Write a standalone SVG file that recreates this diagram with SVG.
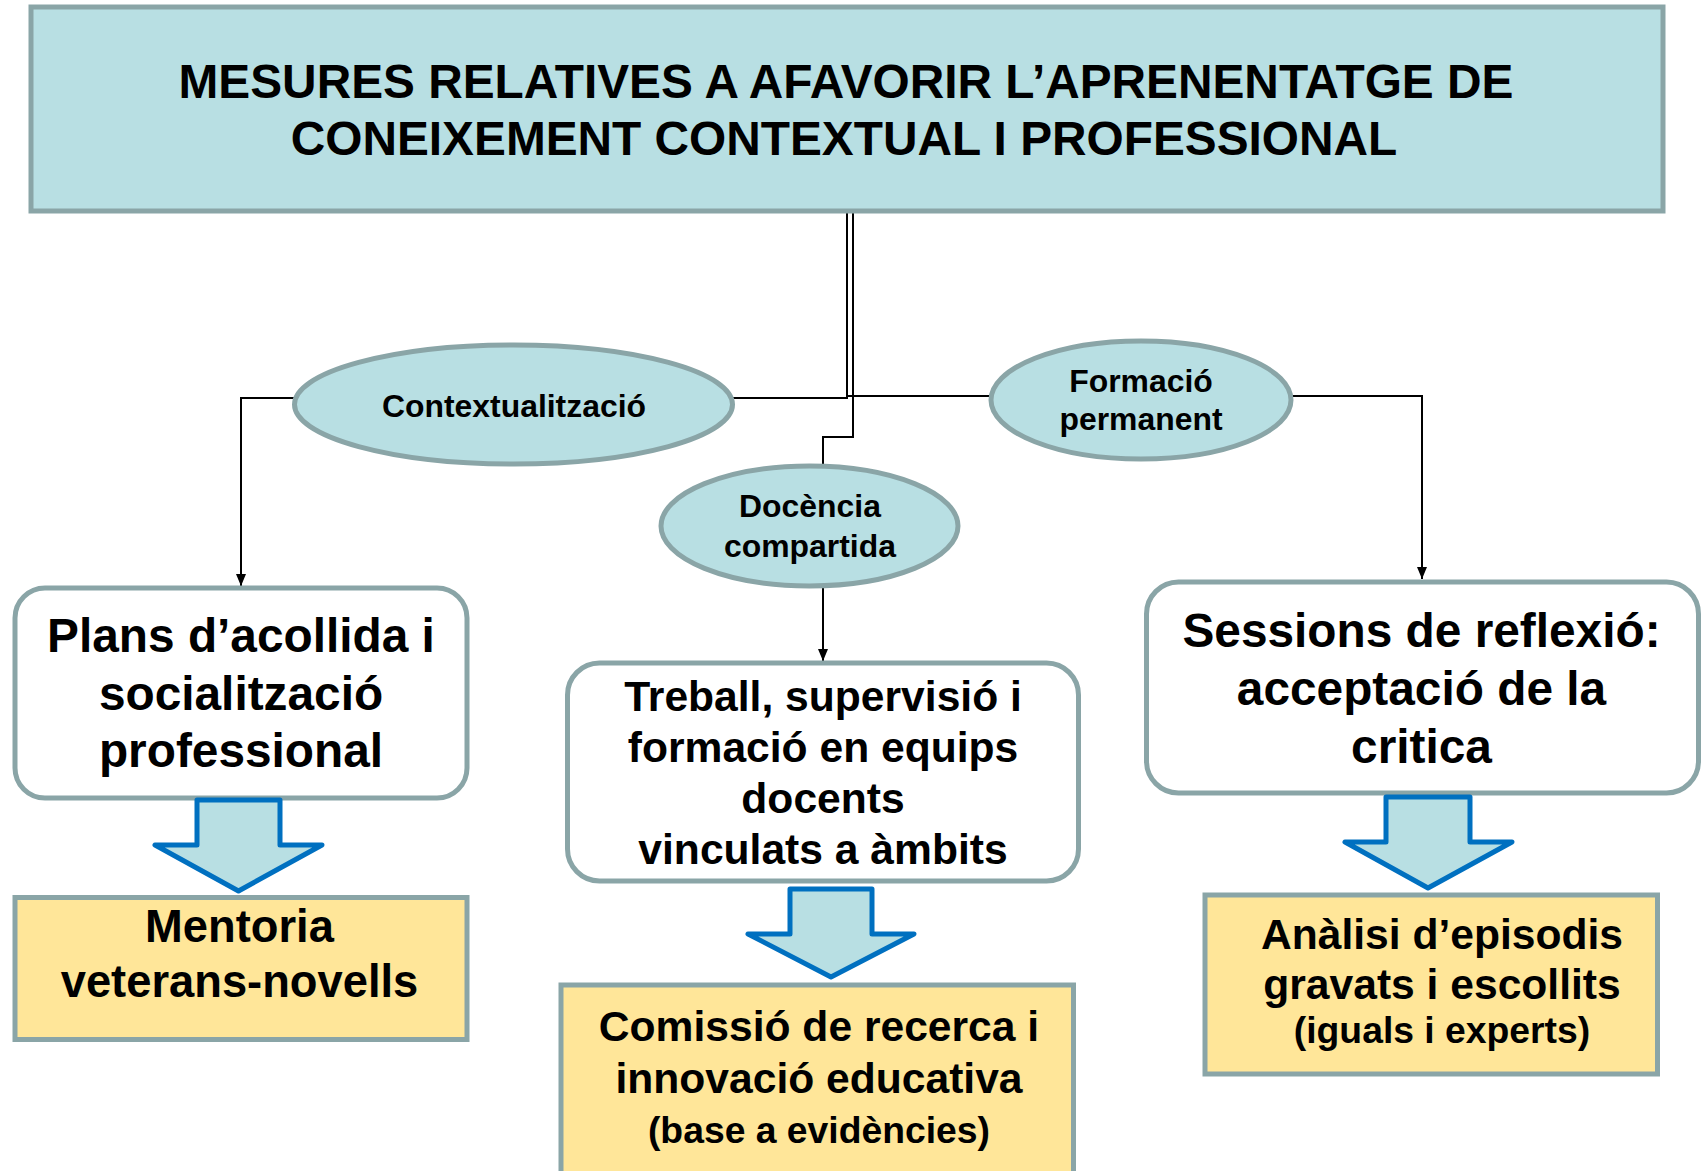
<svg xmlns="http://www.w3.org/2000/svg" width="1704" height="1171" viewBox="0 0 1704 1171">
<defs>
<style>
text{font-family:"Liberation Sans",Arial,Helvetica,sans-serif;font-weight:bold;fill:#000;text-anchor:middle}
.teal{fill:#b8dfe3;stroke:#8aa5a7;stroke-width:5}
.white{fill:#fff;stroke:#8aa5a7;stroke-width:5}
.yellow{fill:#ffe699;stroke:#8aa5a7;stroke-width:5}
.block{fill:#b8dfe3;stroke:#0070c0;stroke-width:5;stroke-linejoin:round}
.conn{fill:none;stroke:#000;stroke-width:2}
.t48{font-size:47.8px}
.t45{font-size:45.3px}
.t42{font-size:42.6px}
.t37{font-size:37.3px}
.t31{font-size:31.9px}
</style>
<marker id="arr" markerUnits="userSpaceOnUse" markerWidth="14" markerHeight="12" refX="12" refY="5" orient="auto">
<path d="M0,0 L12,5 L0,10 Z" fill="#000"/>
</marker>
</defs>
<rect width="1704" height="1171" fill="#fff"/>

<g id="connectors">
<path class="conn" d="M847,212 V398 H241 V586" marker-end="url(#arr)"/>
<path class="conn" d="M853,212 V437 H823 V661" marker-end="url(#arr)"/>
<path class="conn" d="M848,396 H1422 V579" marker-end="url(#arr)"/>
</g>

<g id="title">
<rect class="teal" x="31" y="7" width="1632" height="204"/>
<text class="t48" x="846" y="97.5">MESURES RELATIVES A AFAVORIR L’APRENENTATGE DE</text>
<text class="t48" x="844" y="155">CONEIXEMENT CONTEXTUAL I PROFESSIONAL</text>
</g>

<g id="contextualitzacio">
<ellipse class="teal" cx="513.5" cy="404.5" rx="219" ry="59.5"/>
<text class="t31" x="514" y="417">Contextualització</text>
</g>

<g id="formacio">
<ellipse class="teal" cx="1141" cy="400" rx="150" ry="59"/>
<text class="t31" x="1141" y="392">Formació</text>
<text class="t31" x="1141" y="430">permanent</text>
</g>

<g id="docencia">
<ellipse class="teal" cx="809.5" cy="526" rx="148.5" ry="60"/>
<text class="t31" x="810" y="517">Docència</text>
<text class="t31" x="810" y="556.5">compartida</text>
</g>

<g id="plans">
<rect class="white" x="15" y="588" width="452" height="210" rx="30" ry="30"/>
<text class="t48" x="241" y="652">Plans d’acollida i</text>
<text class="t48" x="241" y="710">socialització</text>
<text class="t48" x="241" y="767">professional</text>
</g>

<g id="treball">
<rect class="white" x="567.5" y="663" width="511" height="218" rx="32" ry="32"/>
<text class="t42" x="823" y="711">Treball, supervisió i</text>
<text class="t42" x="823" y="762">formació en equips</text>
<text class="t42" x="823" y="812.5">docents</text>
<text class="t42" x="823" y="863.5">vinculats a àmbits</text>
</g>

<g id="sessions">
<rect class="white" x="1146.5" y="582" width="552" height="211" rx="32" ry="32"/>
<text class="t48" x="1421.5" y="647">Sessions de reflexió:</text>
<text class="t48" x="1421.5" y="705">acceptació de la</text>
<text class="t48" x="1421.5" y="763">critica</text>
</g>

<g id="arrow-left">
<path class="block" d="M197,800 L280,800 L280,845 L322,845 L238.5,891 L155,845 L197,845 Z"/>
</g>
<g id="arrow-center">
<path class="block" d="M790,889 L872,889 L872,934 L914,934 L831,977 L748,934 L790,934 Z"/>
</g>
<g id="arrow-right">
<path class="block" d="M1386,797 L1470,797 L1470,842 L1512,842 L1428,888 L1345,842 L1386,842 Z"/>
</g>

<g id="mentoria">
<rect class="yellow" x="15" y="897.5" width="452" height="142"/>
<text class="t45" x="239.5" y="942">Mentoria</text>
<text class="t45" x="239.5" y="997">veterans-novells</text>
</g>

<g id="comissio">
<rect class="yellow" x="561" y="985" width="512.5" height="220"/>
<text class="t42" x="819" y="1040.5">Comissió de recerca i</text>
<text class="t42" x="819" y="1092.5">innovació educativa</text>
<text class="t37" x="819" y="1143">(base a evidències)</text>
</g>

<g id="analisi">
<rect class="yellow" x="1205" y="895" width="452.5" height="179"/>
<text class="t42" x="1442" y="948.5">Anàlisi d’episodis</text>
<text class="t42" x="1442" y="998.5">gravats i escollits</text>
<text class="t37" x="1442" y="1043">(iguals i experts)</text>
</g>
</svg>
